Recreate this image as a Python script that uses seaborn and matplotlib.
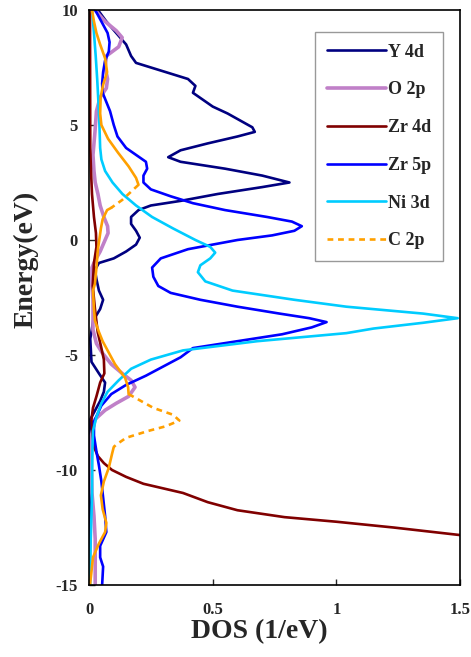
import matplotlib
matplotlib.use("Agg")
import matplotlib.pyplot as plt
import seaborn as sns
import pandas as pd

# values (energy in eV, DOS in 1/eV)
y4d_e = [10, 9.5, 9.0, 8.5, 8.0, 7.7, 7.4, 7.0, 6.7, 6.4, 6.1, 5.8, 5.5, 5.2, 4.9, 4.7, 4.5, 4.2,
         3.9, 3.6, 3.4, 3.1, 2.8, 2.5, 2.3, 2.0, 1.7, 1.5, 1.3, 1.0, 0.7, 0.4, 0.1, -0.2, -0.5,
         -0.8, -1.0, -1.3, -1.7, -2.2, -2.6, -3.0, -3.5, -4.3, -5.3, -5.8, -6.2, -6.6, -7.0,
         -7.5, -7.8, -9, -12, -15]
y4d_dos = [0.036, 0.07, 0.11, 0.15, 0.17, 0.19, 0.28, 0.40, 0.43, 0.42, 0.46, 0.50, 0.56, 0.61,
           0.66, 0.67, 0.60, 0.48, 0.37, 0.32, 0.37, 0.55, 0.70, 0.81, 0.70, 0.52, 0.37, 0.25,
           0.20, 0.17, 0.17, 0.19, 0.205, 0.19, 0.15, 0.10, 0.04, 0.024, 0.03, 0.04, 0.057,
           0.045, 0.017, 0.005, 0.01, 0.04, 0.065, 0.06, 0.045, 0.02, 0.005, 0.003, 0.003, 0.003]

o2p_e = [10, 9.5, 9.1, 8.8, 8.4, 8.0, 7.5, 7.0, 6.6, 6.2, 5.6, 4.7, 3.7, 3.0, 2.5, 2.0, 1.5, 1.0,
         0.6, 0.3, 0.0, -0.5, -0.9, -1.2, -2.0, -2.6, -3.9, -4.5, -4.9, -5.4, -5.8, -6.1, -6.4,
         -6.8, -7.1, -7.4, -7.8, -8.5, -10, -11, -12, -13, -14, -15]
o2p_dos = [0.024, 0.065, 0.11, 0.134, 0.12, 0.07, 0.065, 0.075, 0.07, 0.045, 0.03, 0.024, 0.016,
           0.02, 0.025, 0.036, 0.045, 0.06, 0.075, 0.077, 0.065, 0.045, 0.024, 0.012, 0.012,
           0.016, 0.016, 0.03, 0.053, 0.09, 0.134, 0.17, 0.186, 0.16, 0.11, 0.065, 0.024, 0.01,
           0.01, 0.012, 0.02, 0.025, 0.025, 0.025]

zr4d_e = [10, 4, 3, 2, 1, 0.3, -0.3, -1.0, -2.0, -3.0, -4.0, -4.7, -5.2, -5.8, -6.2, -6.8, -7.3,
          -7.8, -8.5, -9.0, -9.4, -9.7, -10.0, -10.3, -10.6, -11.0, -11.4, -11.75, -12.05,
          -12.25, -12.5, -12.83, -13.2, -14, -15]
zr4d_dos = [0.004, 0.005, 0.008, 0.012, 0.02, 0.028, 0.03, 0.02, 0.015, 0.024, 0.035, 0.05, 0.06,
            0.062, 0.045, 0.03, 0.016, 0.01, 0.015, 0.02, 0.036, 0.06, 0.093, 0.15, 0.22, 0.38,
            0.48, 0.60, 0.79, 1.0, 1.23, 1.5, 1.8, 2.4, 3.0]

zr5p_e = [10, 9.5, 9.0, 8.6, 8.2, 7.8, 7.3, 6.8, 6.4, 6.0, 5.6, 5.0, 4.5, 4.0, 3.7, 3.4, 3.1, 2.8,
          2.5, 2.2, 1.9, 1.6, 1.3, 1.0, 0.8, 0.6, 0.4, 0.2, 0.0, -0.4, -0.8, -1.2, -1.6, -2.0,
          -2.3, -2.6, -2.9, -3.2, -3.4, -3.57, -3.8, -4.1, -4.4, -4.7, -5.1, -5.5, -5.9, -6.3,
          -6.7, -7.2, -7.9, -8.5, -9.2, -9.8, -10.5, -11.2, -12.0, -12.7, -13.3, -13.8, -14.2, -15]
zr5p_dos = [0.025, 0.05, 0.075, 0.083, 0.08, 0.065, 0.057, 0.053, 0.055, 0.07, 0.085, 0.10, 0.115,
            0.15, 0.19, 0.23, 0.235, 0.22, 0.22, 0.25, 0.33, 0.42, 0.55, 0.72, 0.82, 0.86, 0.83,
            0.74, 0.60, 0.40, 0.29, 0.255, 0.26, 0.28, 0.33, 0.45, 0.60, 0.77, 0.89, 0.96, 0.90,
            0.78, 0.60, 0.42, 0.37, 0.30, 0.23, 0.15, 0.09, 0.05, 0.02, 0.02, 0.03, 0.04, 0.05,
            0.057, 0.065, 0.07, 0.045, 0.045, 0.057, 0.053]

ni3d_e = [10, 9, 8, 7, 6, 5, 4, 3.5, 3.0, 2.5, 2.0, 1.5, 1.0, 0.5, 0.0, -0.3, -0.55, -0.8, -1.1,
          -1.4, -1.8, -2.2, -2.6, -2.9, -3.2, -3.4, -3.6, -3.85, -4.05, -4.4, -4.8, -5.2, -5.6,
          -6.1, -6.6, -7.1, -7.7, -8.3, -9.5, -11.2, -13, -15]
ni3d_dos = [0.012, 0.02, 0.027, 0.033, 0.038, 0.042, 0.045, 0.05, 0.065, 0.095, 0.135, 0.19,
            0.255, 0.34, 0.43, 0.49, 0.51, 0.49, 0.45, 0.44, 0.47, 0.58, 0.83, 1.04, 1.35, 1.49,
            1.35, 1.15, 1.04, 0.68, 0.38, 0.25, 0.17, 0.12, 0.075, 0.05, 0.03, 0.016, 0.013,
            0.012, 0.007, 0.004]

c2p_e = [10, 9.5, 9.0, 8.5, 7.9, 7.3, 6.75, 6.2, 5.5, 5.0, 4.4, 3.8, 3.2, 2.7, 2.4, 2.1, 1.74, 1.4,
         1.3, 0.9, 0.5, -0.4, -1.2, -1.9, -2.2, -3.0, -3.5, -4.0, -4.4, -5.0, -5.4, -6.0, -6.4,
         -6.7, -7.0, -7.3, -7.6, -7.85, -8.1, -8.3, -8.6, -8.9, -9.0, -9.3, -9.9, -10.5, -11.1,
         -11.7, -12.3, -12.7, -13.2, -13.8, -14.4, -15]
c2p_dos = [0.012, 0.02, 0.03, 0.045, 0.065, 0.073, 0.057, 0.047, 0.045, 0.05, 0.077, 0.117, 0.16,
           0.19, 0.20, 0.17, 0.134, 0.09, 0.073, 0.055, 0.048, 0.036, 0.03, 0.024, 0.016, 0.02,
           0.024, 0.04, 0.055, 0.085, 0.105, 0.146, 0.158, 0.16, 0.21, 0.26, 0.34, 0.365, 0.31,
           0.24, 0.15, 0.11, 0.10, 0.093, 0.08, 0.06, 0.048, 0.055, 0.07, 0.065, 0.04, 0.016,
           0.01, 0.004]
# energy windows where the C 2p curve is drawn dashed
c2p_dashed = [(1.4, 2.4), (-9.0, -6.7)]

series = [
    ("Y 4d", y4d_e, y4d_dos, "#000080", 1.9),
    ("O 2p", o2p_e, o2p_dos, "#c080c8", 2.6),
    ("Zr 4d", zr4d_e, zr4d_dos, "#800000", 1.9),
    ("Zr 5p", zr5p_e, zr5p_dos, "#0000ff", 1.9),
    ("Ni 3d", ni3d_e, ni3d_dos, "#00ccff", 1.9),
]

sns.set_style("white")
plt.rcParams["font.family"] = ["Liberation Serif", "DejaVu Serif"]
plt.rcParams["font.weight"] = "bold"
plt.rcParams["axes.unicode_minus"] = False
plt.rcParams["lines.solid_joinstyle"] = "round"
plt.rcParams["lines.solid_capstyle"] = "round"

fig = plt.figure(figsize=(4.71, 6.57), dpi=100)
ax = fig.add_axes([0.189, 0.1096, 0.788, 0.8752])

handles = []
for name, e, d, col, lw in series:
    df = pd.DataFrame({"E": e, "DOS": d})
    sns.lineplot(data=df, x="DOS", y="E", sort=False, estimator=None, color=col, lw=lw, ax=ax)
    handles.append((ax.lines[-1], name))

# C 2p: split into solid and dashed pieces
c2p = pd.DataFrame({"E": c2p_e, "DOS": c2p_dos})
cuts = sorted([v for rng in c2p_dashed for v in rng], reverse=True)
bounds = [10] + cuts + [-15]
for i in range(len(bounds) - 1):
    hi, lo = bounds[i], bounds[i + 1]
    part = c2p[(c2p.E <= hi) & (c2p.E >= lo)]
    dashed = any(abs(lo - a) < 1e-9 and abs(hi - b) < 1e-9 for a, b in c2p_dashed)
    sns.lineplot(data=part, x="DOS", y="E", sort=False, estimator=None, color="#ffa000",
                 lw=1.9, ax=ax, dashes=False)
    ln = ax.lines[-1]
    if dashed:
        ln.set_dashes((2.2, 1.8))
        c2p_handle = ln
handles.append((c2p_handle, "C 2p"))

ax.set_xlim(0, 1.5)
ax.set_ylim(-15, 10)
ax.set_xticks([0, 0.5, 1, 1.5])
ax.set_xticklabels(["0", "0.5", "1", "1.5"])
ax.set_yticks([-15, -10, -5, 0, 5, 10])
ax.tick_params(axis="both", direction="in", length=4, width=1, labelsize=12)
ax.tick_params(axis="x", pad=12, bottom=True)
ax.tick_params(axis="y", pad=8, left=True)
for lab in ax.get_xticklabels() + ax.get_yticklabels():
    lab.set_fontweight("bold")
for sp in ax.spines.values():
    sp.set_color("black")
    sp.set_linewidth(1.2)

ax.set_xlabel("DOS (1/eV)", fontsize=20, fontweight="bold")
ax.set_ylabel("Energy(eV)", fontsize=20, fontweight="bold")
ax.xaxis.set_label_coords(0.458, -0.06)
ax.yaxis.set_label_coords(-0.135, 0.567)

leg = ax.legend([h for h, _ in handles], [n for _, n in handles], loc="upper right",
                bbox_to_anchor=(0.954, 0.962), borderaxespad=0, fancybox=False,
                frameon=True, handlelength=3.3, handletextpad=0.1,
                labelspacing=1.15, borderpad=0.65, prop={"weight": "bold", "size": 13})
leg.get_frame().set_edgecolor("#808080")
leg.get_frame().set_linewidth(1.0)

fig.savefig("out.png", dpi=100)
